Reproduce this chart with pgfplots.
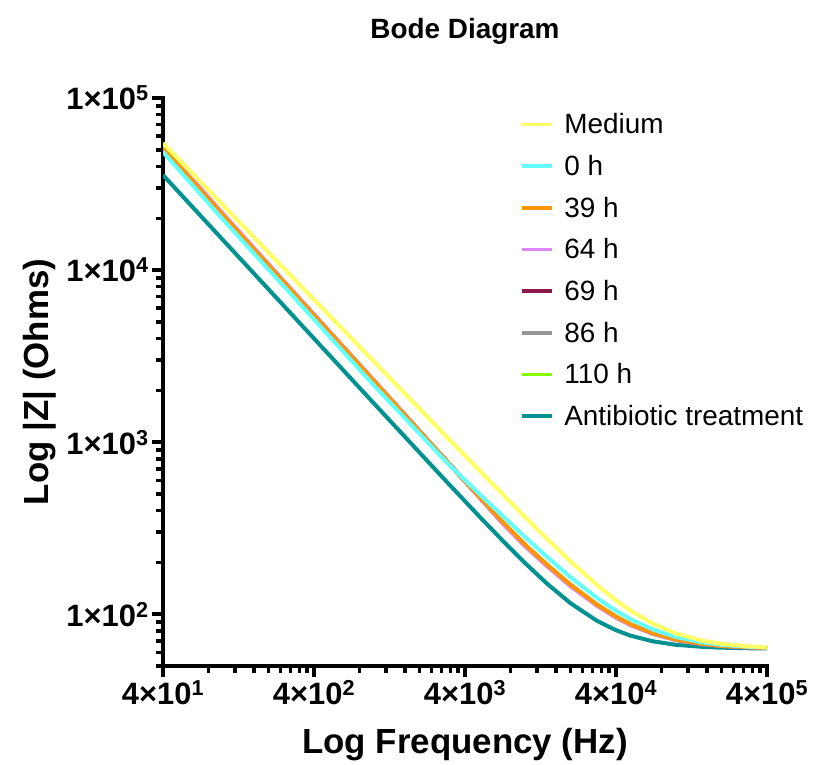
\documentclass[border=0pt]{standalone}
\usepackage{fontspec}
\setmainfont{Liberation Sans}
\usepackage{pgfplots}
\pgfplotsset{compat=1.18}

\definecolor{cMedium}{RGB}{255,255,102}
\definecolor{cZero}{RGB}{102,255,255}
\definecolor{cThirtyNine}{RGB}{255,150,0}
\definecolor{cSixtyFour}{RGB}{220,135,255}
\definecolor{cSixtyNine}{RGB}{140,25,75}
\definecolor{cEightySix}{RGB}{150,150,150}
\definecolor{cHundredTen}{RGB}{135,255,0}
\definecolor{cAntibiotic}{RGB}{0,145,145}

\newcommand{\tl}[2]{\textbf{#1×10\textsuperscript{#2}}}

\begin{document}
\begin{tikzpicture}
\begin{axis}[
  xmode=log, ymode=log,
  scale only axis, width=604bp, height=568bp,
  xmin=40, xmax=400000, ymin=50, ymax=100000,
  axis x line=bottom, axis y line=left,
  axis line style={line width=4.5bp, -, line cap=rect},
  tick align=outside,
  major tick length=11bp, minor tick length=7bp,
  major tick style={black, line width=3.5bp},
  minor tick style={black, line width=3.5bp},
  xtick={40,400,4000,40000,400000},
  xticklabels={\tl{4}{1},\tl{4}{2},\tl{4}{3},\tl{4}{4},\tl{4}{5}},
  minor xtick={80,120,160,200,240,280,320,360,
    800,1200,1600,2000,2400,2800,3200,3600,
    8000,12000,16000,20000,24000,28000,32000,36000,
    80000,120000,160000,200000,240000,280000,320000,360000},
  ytick={100,1000,10000,100000},
  yticklabels={\tl{1}{2},\tl{1}{3},\tl{1}{4},\tl{1}{5}},
  minor ytick={50,60,70,80,90,200,300,400,500,600,700,800,900,
    2000,3000,4000,5000,6000,7000,8000,9000,
    20000,30000,40000,50000,60000,70000,80000,90000},
  tick label style={font=\fontsize{31}{34}\selectfont},
  title={Bode Diagram},
  title style={font=\bfseries\fontsize{28}{32}\selectfont, yshift=44bp},
  xlabel={Log Frequency (Hz)},
  xlabel style={font=\bfseries\fontsize{35}{38}\selectfont, at={(axis description cs:0.5,0)}, anchor=center, yshift=-79bp},
  ylabel={Log |Z| (Ohms)},
  ylabel style={font=\bfseries\fontsize{35}{38}\selectfont, at={(axis description cs:-0.2036,0.5)}, anchor=center},
  legend image code/.code={\draw[#1, line width=3.5bp] (0bp,0bp) -- (30bp,0bp); \path (38bp,0bp);},
  legend style={at={(axis description cs:0.5868,0.98)}, anchor=north west, draw=none, fill=none,
    font=\fontsize{28}{30}\selectfont, row sep=16bp},
  legend cell align=left,
  reverse legend,
  every axis plot/.append style={line width=4bp, line join=round},
]

% Antibiotic treatment
\addplot[color=cAntibiotic] coordinates {
  (40,35650) (100,14930) (300,5260) (1000,1675) (3000,593) (5000,368.4)
  (7000,271.2) (10000,198.2) (14000,150.3) (20000,115.8) (30000,91.4)
  (40000,80.7) (50000,75.0) (70000,69.6) (100000,66.4) (150000,64.6)
  (200000,63.9) (300000,63.4) (400000,63.25)
};
\addlegendentry{Antibiotic treatment}

% 110 h
\addplot[color=cHundredTen] coordinates {
  (40,50300) (100,20500) (300,7120) (1000,2235) (3000,776) (5000,478)
  (7000,347) (10000,252.5) (14000,193) (20000,148) (30000,113.3)
  (40000,96.6) (50000,87.1) (70000,77.4) (100000,71.1) (150000,67.1)
  (200000,65.4) (300000,64.3) (400000,63.8)
};
\addlegendentry{110 h}

% 86 h
\addplot[color=cEightySix] coordinates {
  (40,51600) (100,20900) (300,7220) (1000,2262) (3000,782) (5000,479)
  (7000,346) (10000,252) (14000,192.5) (20000,147.6) (30000,113)
  (40000,96.5) (50000,87) (70000,77.3) (100000,71.1) (150000,67.1)
  (200000,65.4) (300000,64.2) (400000,63.7)
};
\addlegendentry{86 h}

% 69 h
\addplot[color=cSixtyNine] coordinates {
  (40,52000) (100,21000) (300,7240) (1000,2267) (3000,782) (5000,478)
  (7000,344.5) (10000,250.5) (14000,191.5) (20000,147) (30000,112.6)
  (40000,96.1) (50000,86.8) (70000,77.2) (100000,71.0) (150000,67.1)
  (200000,65.4) (300000,64.2) (400000,63.7)
};
\addlegendentry{69 h}

% 64 h
\addplot[color=cSixtyFour] coordinates {
  (40,52500) (100,21190) (300,7285) (1000,2275) (3000,782) (5000,476.2)
  (7000,340.8) (10000,248.0) (14000,189.8) (20000,145.5) (30000,111.7)
  (40000,95.5) (50000,86.4) (70000,77.0) (100000,70.8) (150000,67.0)
  (200000,65.4) (300000,64.2) (400000,63.7)
};
\addlegendentry{64 h}

% 39 h
\addplot[color=cThirtyNine] coordinates {
  (40,51170) (100,20800) (300,7200) (1000,2259) (3000,782) (5000,479.5)
  (7000,348.5) (10000,253.5) (14000,193.7) (20000,148.3) (30000,113.5)
  (40000,96.8) (50000,87.3) (70000,77.5) (100000,71.2) (150000,67.2)
  (200000,65.5) (300000,64.3) (400000,63.8)
};
\addlegendentry{39 h}

% 0 h
\addplot[color=cZero] coordinates {
  (40,48530) (100,19600) (300,6820) (1000,2130) (3000,768) (5000,498)
  (7000,376.8) (10000,280.7) (14000,214.6) (20000,164) (30000,124.1)
  (40000,104.7) (50000,93.4) (70000,81.6) (100000,73.7) (150000,68.5)
  (200000,66.4) (300000,64.7) (400000,64.1)
};
\addlegendentry{0 h}

% Medium
\addplot[color=cMedium] coordinates {
  (40,54700) (100,23770) (300,8750) (1000,2931) (3000,1081) (5000,682)
  (7000,504) (10000,366.9) (14000,273.4) (20000,202.4) (30000,147.2)
  (40000,120.3) (50000,104.8) (70000,88.2) (100000,77.2) (150000,70.1)
  (200000,67.3) (300000,65.1) (400000,64.2)
};
\addlegendentry{Medium}

\end{axis}
\path ([xshift=-163bp,yshift=-96bp]current axis.south west)
  rectangle ([xshift=47bp,yshift=98bp]current axis.north east);
\end{tikzpicture}
\end{document}
